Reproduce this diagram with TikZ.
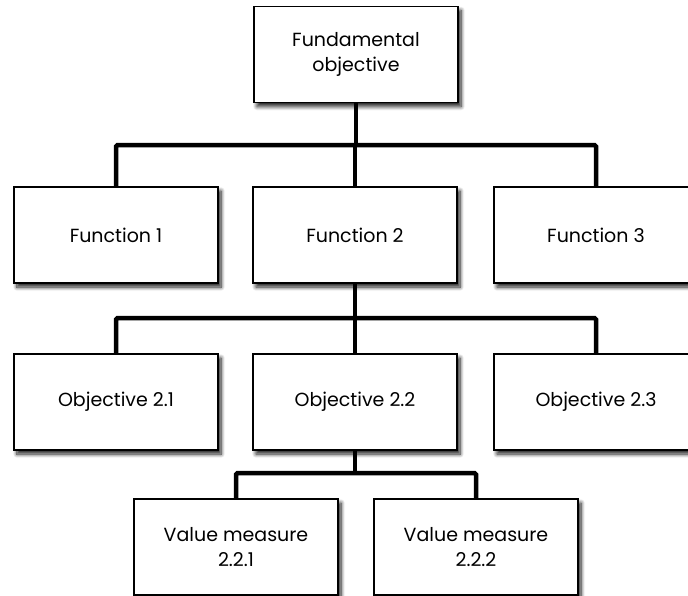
\documentclass[tikz,border=0pt]{standalone}
\usepackage{fontspec}
\setmainfont{Poppins}
\usetikzlibrary{shadows.blur}
\tikzset{
  box/.style={draw=black, line width=1.4pt, fill=white, minimum width=204pt,
    minimum height=96pt, inner sep=0pt, align=center,
    font=\fontsize{19}{25}\selectfont,
    blur shadow={shadow xshift=3pt, shadow yshift=-4pt, shadow blur radius=4pt,
      shadow blur steps=8, shadow opacity=90}},
  link/.style={line width=4.5pt, rounded corners=1.5pt}
}
\begin{document}
\begin{tikzpicture}[x=1pt, y=-1pt]
  \useasboundingbox (0,0) rectangle (688,595);
  \clip (0,0) rectangle (688,595);
  % levels of the horizontal bus bars
  \coordinate (bus1) at (0,145);
  \coordinate (bus2) at (0,318);
  \coordinate (bus3) at (0,473);
  \node[box] (top) at (356,54.5) {Fundamental\\objective};
  \node[box] (f1) at (116,235) {Function 1};
  \node[box] (f2) at (355,235) {Function 2};
  \node[box] (f3) at (596,235) {Function 3};
  \node[box] (o1) at (116,402) {Objective 2.1};
  \node[box] (o2) at (355,402) {Objective 2.2};
  \node[box] (o3) at (596,402) {Objective 2.3};
  \node[box] (v1) at (236,547) {Value measure\\2.2.1};
  \node[box] (v2) at (476,547) {Value measure\\2.2.2};
  % tree connectors
  \draw[link] (top.south) -- (top.south |- bus1);
  \draw[link] (f1.north) |- (f3.north |- bus1) -- (f3.north);
  \draw[link] (f2.north |- bus1) -- (f2.north);
  \draw[link] (f2.south) -- (f2.south |- bus2);
  \draw[link] (o1.north) |- (o3.north |- bus2) -- (o3.north);
  \draw[link] (o2.north |- bus2) -- (o2.north);
  \draw[link] (o2.south) -- (o2.south |- bus3);
  \draw[link] (v1.north) |- (v2.north |- bus3) -- (v2.north);
\end{tikzpicture}
\end{document}
